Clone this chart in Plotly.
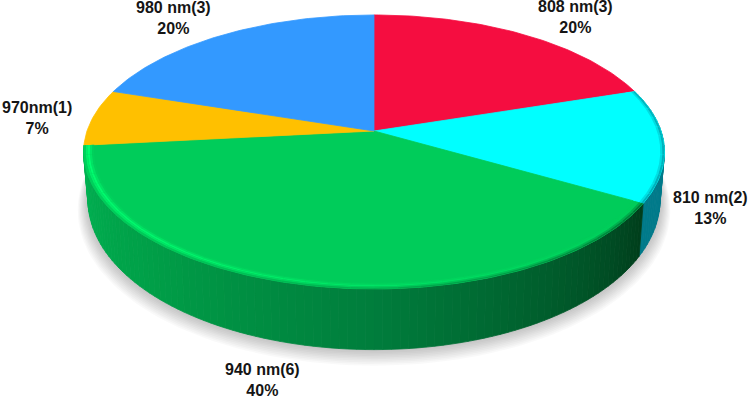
import numpy as np
import plotly.graph_objects as go

# ---- data ----
categories = ["808 nm(3)", "810 nm(2)", "940 nm(6)", "970nm(1)", "980 nm(3)"]
values = [3, 2, 6, 1, 3]
percent_labels = ["20%", "13%", "40%", "7%", "20%"]

# ---- styles ----
top_colors = [(245, 13, 64), (0, 255, 255), (0, 204, 90), (255, 192, 0), (51, 153, 255)]
label_xy = [(575, 17), (710, 208), (262, 380), (37, 118), (173, 18)]

# perspective of the disc
CX, CY, A, B, K = 374.0, 131.0, 287.0, 133.8, 0.153
BOTTOM_SCALE = 0.985
DROP0, DROP_SLOPE = 45.0, 0.40


def proj(theta, r=1.0):
    u, v = r * np.sin(theta), r * np.cos(theta)
    w = 1 + K * v
    return CX + A * u / w, CY - B * v / w


def proj_bottom(theta, r=1.0):
    x, y = proj(theta, r)
    v = r * np.cos(theta)
    return CX + BOTTOM_SCALE * (x - CX), CY + BOTTOM_SCALE * (y - CY) + DROP0 * (1 - DROP_SLOPE * v)


def rgb(c):
    return "rgb(%d,%d,%d)" % tuple(int(round(max(0, min(255, p)))) for p in c)


def mix(a, b, t):
    return tuple(p + (q - p) * t for p, q in zip(a, b))


def side_color(i, deg):
    if i == 1:
        return (0, 122, 138)
    return (
        0,
        np.interp(deg, [120, 140, 180, 225, 264], [62, 85, 125, 160, 178]),
        np.interp(deg, [120, 140, 180, 225, 264], [28, 40, 60, 72, 82]),
    )


def poly(fig, xs, ys, color, line=True):
    fig.add_trace(go.Scatter(
        x=list(xs) + [xs[0]], y=list(ys) + [ys[0]], mode="lines", fill="toself",
        fillcolor=color, line=dict(color=color, width=0.8 if line else 0),
        hoverinfo="skip", showlegend=False))


fig = go.Figure()

fractions = np.array(values, dtype=float) / sum(values)
edges = np.concatenate([[0], np.cumsum(fractions)]) * 2 * np.pi

# soft shadow under the disc
full = np.linspace(0, 2 * np.pi, 181)
for n in range(10, 0, -1):
    xb, yb = proj_bottom(full, 1 + 0.0035 * n)
    fig.add_trace(go.Scatter(
        x=xb, y=yb + 0.9 * n, mode="lines", fill="toself", fillcolor="rgba(0,0,0,0.022)",
        line=dict(width=0), hoverinfo="skip", showlegend=False))

# wall, one thin strip per step of angle, only slices that face the viewer
for i in (1, 2):
    n_steps = max(4, int(np.degrees(edges[i + 1] - edges[i]) / 1.5))
    th = np.linspace(edges[i], edges[i + 1], n_steps + 1)
    for t0, t1 in zip(th[:-1], th[1:]):
        x0, y0 = proj(t0)
        x1, y1 = proj(t1)
        x2, y2 = proj_bottom(t1)
        x3, y3 = proj_bottom(t0)
        poly(fig, [x0, x1, x2, x3], [y0, y1, y2, y3], rgb(side_color(i, np.degrees((t0 + t1) / 2))))

# top face
for i, c in enumerate(top_colors):
    th = np.linspace(edges[i], edges[i + 1], max(8, int(np.degrees(edges[i + 1] - edges[i]))))
    xs, ys = proj(th)
    poly(fig, [CX] + list(xs), [CY] + list(ys), rgb(c))

# bevel along the front rim
RINGS = np.linspace(0.965, 1.0, 6)
HIGHLIGHT = (0, 255, 112)
for i in (1, 2):
    n_steps = max(4, int(np.degrees(edges[i + 1] - edges[i]) / 4))
    th = np.linspace(edges[i], edges[i + 1], n_steps + 1)
    for t0, t1 in zip(th[:-1], th[1:]):
        deg = np.degrees((t0 + t1) / 2)
        strength = 0 if i == 1 else np.interp(deg, [120, 150, 180, 220, 264], [0.0, 0.2, 0.45, 0.85, 1.0])
        for j, (r0, r1) in enumerate(zip(RINGS[:-1], RINGS[1:])):
            q = (j + 0.5) / (len(RINGS) - 1)
            col = mix(top_colors[i], HIGHLIGHT, strength * np.exp(-((q - 0.55) / 0.28) ** 2))
            dark = np.clip((q - 0.55) / 0.45, 0, 1) * (0.75 - 0.55 * strength)
            col = mix(col, side_color(i, deg), dark)
            xa, ya = proj(t0, r0)
            xb, yb = proj(t1, r0)
            xc, yc = proj(t1, r1)
            xd, yd = proj(t0, r1)
            poly(fig, [xa, xb, xc, xd], [ya, yb, yc, yd], rgb(col), line=False)

for name, pct, (lx, ly) in zip(categories, percent_labels, label_xy):
    fig.add_annotation(
        x=lx, y=ly, text="<b>%s<br>%s</b>" % (name, pct), showarrow=False, xanchor="center", yanchor="middle",
        font=dict(family="Liberation Sans", size=16, color="#151515"))

fig.update_layout(
    width=750, height=397, margin=dict(l=0, r=0, t=0, b=0),
    paper_bgcolor="white", plot_bgcolor="white", showlegend=False, hovermode=False,
    xaxis=dict(range=[0, 750], visible=False, fixedrange=True),
    yaxis=dict(range=[397, 0], visible=False, fixedrange=True),
)
fig.write_html("out.html", config={"displayModeBar": False},
               post_script="document.body.style.margin='0';document.documentElement.style.overflow='hidden';")
